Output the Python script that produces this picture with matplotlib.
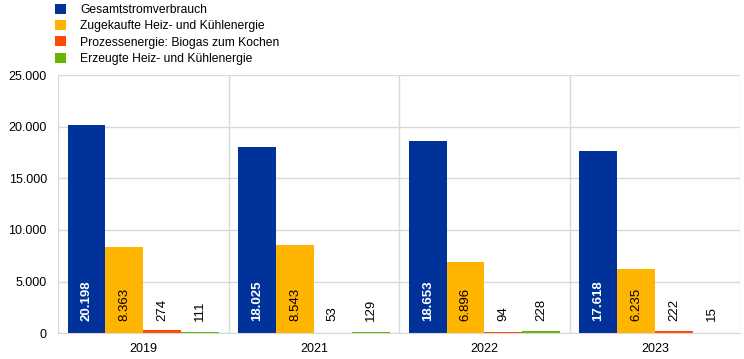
import numpy as np
from matplotlib import pyplot as plt
from matplotlib.ticker import FuncFormatter

plt.rcParams['font.family'] = ['Liberation Sans', 'DejaVu Sans']

years = ['2019', '2021', '2022', '2023']
series = ['Gesamtstromverbrauch', 'Zugekaufte Heiz- und Kühlenergie',
          'Prozessenergie: Biogas zum Kochen', 'Erzeugte Heiz- und Kühlenergie']
gesamtstrom = [20198, 18025, 18653, 17618]
zugekauft = [8363, 8543, 6896, 6235]
biogas = [274, 53, 94, 222]
erzeugt = [111, 129, 228, 15]
colors = ['#003299', '#FFB400', '#FF4B00', '#65B800']


def fmt(v):
    return '{:,}'.format(int(v)).replace(',', '.')


fig = plt.figure(figsize=(7.44, 3.59), dpi=100)
ax = fig.add_axes([0.078, 0.072, 0.917, 0.719])

x = np.arange(len(years))
w = 0.222
offsets = [-1.5 * w, -0.5 * w, 0.5 * w, 1.5 * w]
data = [gesamtstrom, zugekauft, biogas, erzeugt]
handles = []
for i, (vals, col, off) in enumerate(zip(data, colors, offsets)):
    b = ax.bar(x + off, vals, width=w, color=col, label=series[i], zorder=2)
    handles.append(b)
    for xi, v in zip(x + off, vals):
        ax.annotate(fmt(v), xy=(xi, 0), xytext=(0, 9), textcoords='offset points',
                    rotation=90, ha='center', va='bottom', fontsize=9.5,
                    color='white' if i == 0 else 'black',
                    fontweight='bold' if i == 0 else 'normal', zorder=3)

ax.set_xlim(-0.5, 3.5)
ax.set_ylim(0, 25000)
ax.set_yticks(np.arange(0, 25001, 5000))
ax.yaxis.set_major_formatter(FuncFormatter(lambda v, p: fmt(v)))
ax.set_xticks(x)
ax.set_xticklabels(years)
ax.set_xticks([-0.5, 0.5, 1.5, 2.5, 3.5], minor=True)
ax.grid(axis='y', color='#d9d9d9', linewidth=1, zorder=0)
ax.grid(axis='x', which='minor', color='#d9d9d9', linewidth=1, zorder=0)
ax.tick_params(axis='both', which='both', length=0, labelsize=9, colors='black')
ax.tick_params(axis='y', pad=8)
ax.tick_params(axis='x', pad=7)
for s in ax.spines.values():
    s.set_visible(False)
ax.spines['bottom'].set_visible(True)
ax.spines['bottom'].set_color('#d9d9d9')

fig.legend(handles=handles, labels=series, loc='upper left', bbox_to_anchor=(0.068, 1.002),
           frameon=False, fontsize=8.7, handlelength=0.9, handleheight=0.9,
           handletextpad=1.15, labelspacing=0.33, borderaxespad=0)

plt.savefig('out.png', dpi=100)
